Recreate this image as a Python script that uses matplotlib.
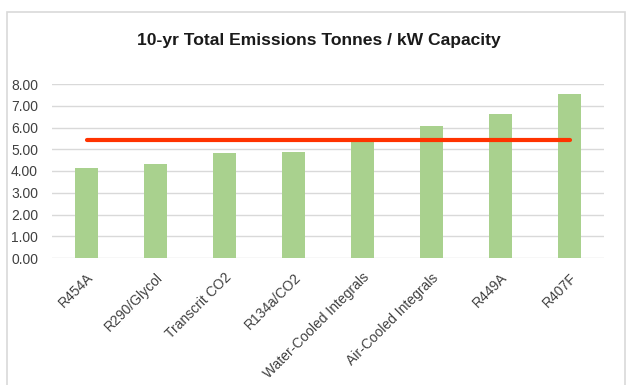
import matplotlib.pyplot as plt
from matplotlib.patches import Rectangle

# emissions per kW of capacity over 10 years, by system type
systems = ['R454A', 'R290/Glycol', 'Transcrit CO2', 'R134a/CO2',
           'Water-Cooled Integrals', 'Air-Cooled Integrals', 'R449A', 'R407F']
emissions = [4.13, 4.33, 4.82, 4.87, 5.40, 6.05, 6.64, 7.54]
average = [5.44] * len(systems)
yticks = [0, 1, 2, 3, 4, 5, 6, 7, 8]

plt.rcParams['font.family'] = ['Liberation Sans', 'DejaVu Sans']

fig = plt.figure(figsize=(6.28, 3.85), dpi=100)
fig.patches.append(Rectangle((7 / 628, -0.1), 618 / 628, 1 - 12 / 385 + 0.1,
                             transform=fig.transFigure, fill=False,
                             edgecolor='#D9D9D9', linewidth=1.2))

ax = fig.add_axes([52 / 628, 1 - 258 / 385, 552 / 628, 174 / 385])
x = range(len(systems))
ax.bar(x, emissions, width=0.33, color='#A9D18E', zorder=2)
ax.plot(x, average, color='#FF3300', linewidth=3, solid_capstyle='round', zorder=3)

ax.set_xlim(-0.5, len(systems) - 0.5)
ax.set_ylim(0, 8)
ax.set_yticks(yticks)
ax.set_yticklabels(['{:.2f}'.format(v) for v in yticks])
ax.yaxis.grid(True, color='#D9D9D9', linewidth=1)
ax.set_axisbelow(True)
for s in ax.spines.values():
    s.set_visible(False)
ax.tick_params(axis='y', length=0, pad=10, labelsize=10, labelcolor='#404040')
ax.tick_params(axis='x', length=0, pad=9, labelsize=10, labelcolor='#404040')
ax.set_xticks(list(x))
ax.set_xticklabels(systems, rotation=45, ha='right', rotation_mode='anchor')

fig.text(319 / 628, 1 - 40 / 385, '10-yr Total Emissions Tonnes / kW Capacity',
         ha='center', va='center', fontsize=12.6, fontweight='bold', color='#1a1a1a')

fig.savefig('out.png', dpi=100, facecolor='white')
